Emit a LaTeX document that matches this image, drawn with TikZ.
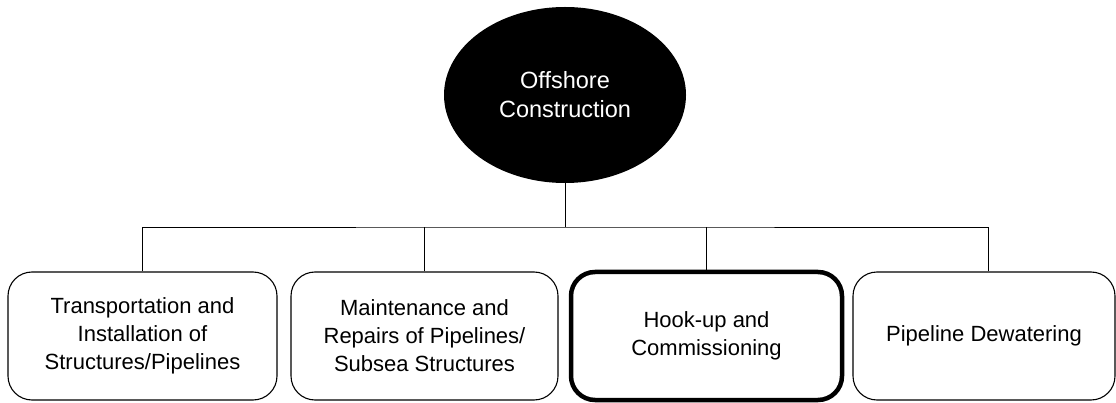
\documentclass[tikz,border=0pt]{standalone}
\usepackage{fontspec}
\setmainfont{Liberation Sans}
\usetikzlibrary{shapes.geometric}
\begin{document}
\begin{tikzpicture}[
      x=1pt, y=-1pt,
      tache/.style={
        draw,
        rounded corners=24pt,
        line width=1.1pt,
        minimum height=128pt,
        align=center,
        font=\fontsize{22}{28}\selectfont
      },
      racine/.style={
        ellipse,
        fill=black,
        text=white,
        inner sep=0pt,
        minimum width=242pt,
        minimum height=176pt,
        align=center,
        font=\fontsize{23.5}{29}\selectfont
      }
    ]
    \useasboundingbox (0,0) rectangle (1116,403);
    \node[racine] (oc) at (565,95) {Offshore\\Construction} ;
    \node[tache, minimum width=269pt] (t1) at (142.5,336) {Transportation and\\Installation of\\Structures/Pipelines} ;
    \node[tache, minimum width=267pt] (t2) at (424.5,336) {Maintenance and\\Repairs of Pipelines/\\Subsea Structures} ;
    \node[tache, minimum width=271pt, line width=4.5pt] (t3) at (706.5,336) {Hook-up and\\Commissioning} ;
    \node[tache, minimum width=262pt] (t4) at (984,336) {Pipeline Dewatering} ;
    \coordinate (bus) at (565,227);
    \coordinate (t4h) at ([xshift=4pt]t4.north);

    \draw[line width=0.9pt] (oc.south) -- (bus);
    \draw[line width=0.9pt] (t1.north) |- (bus) -| (t4h);
    \draw[line width=0.9pt] (t2.north) -- (t2.north |- bus);
    \draw[line width=0.9pt] (t3.north) -- (t3.north |- bus);

  \end{tikzpicture}
\end{document}
